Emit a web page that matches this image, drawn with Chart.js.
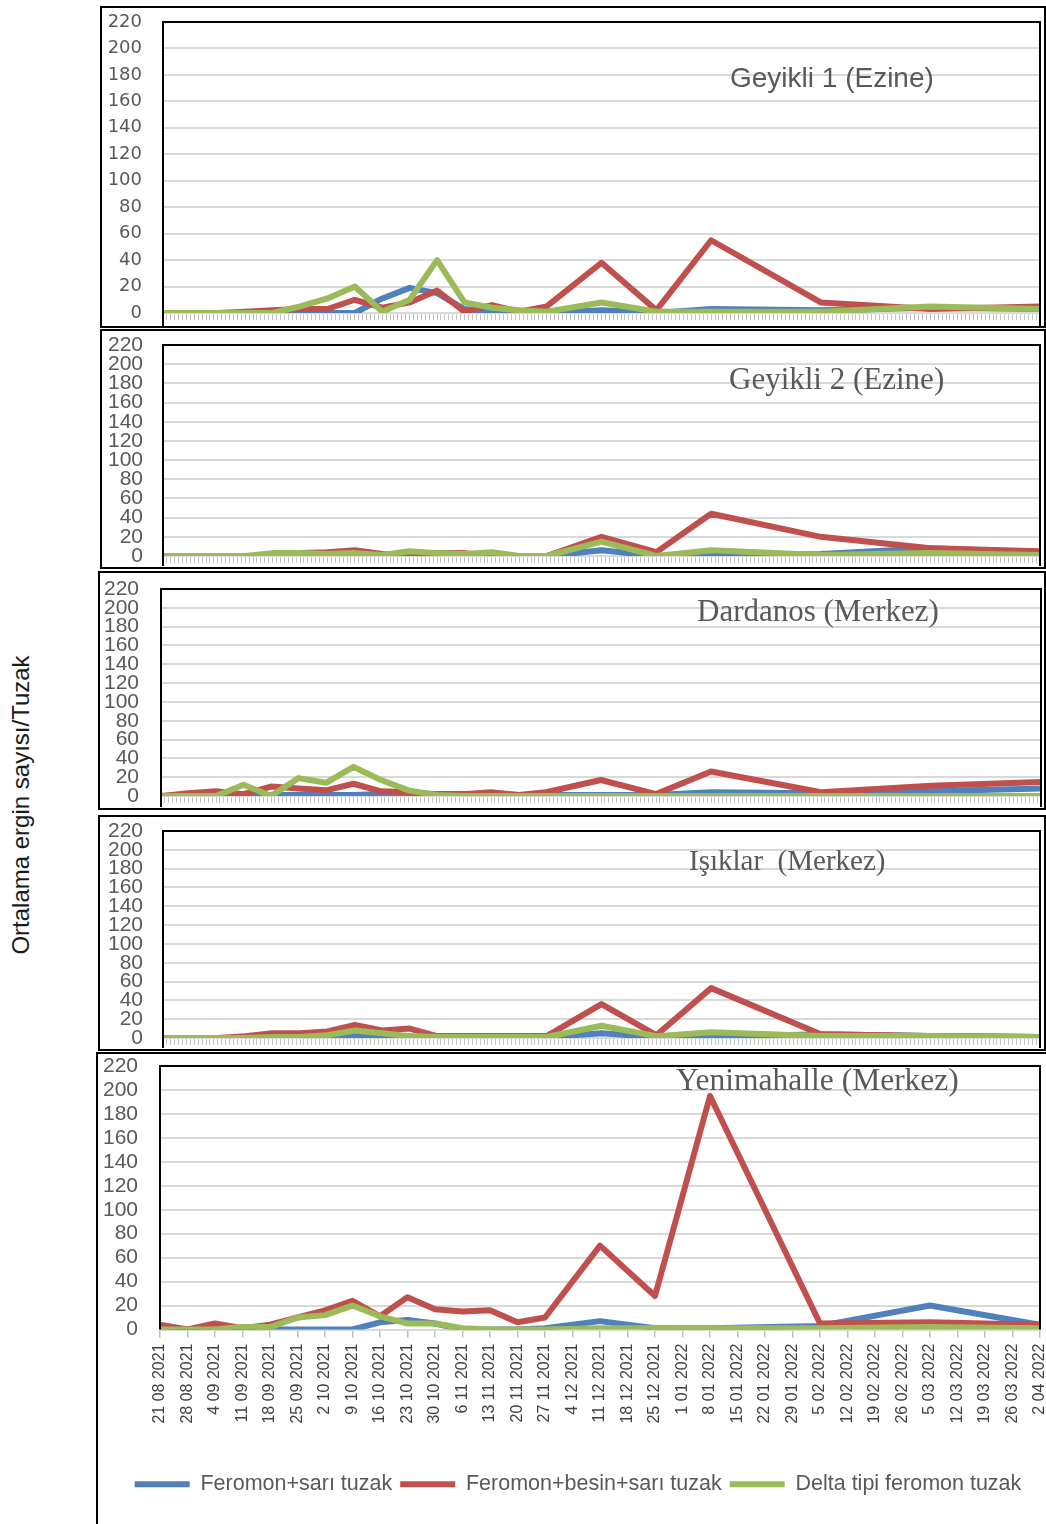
<!DOCTYPE html>
<html><head><meta charset="utf-8">
<script src="https://cdn.jsdelivr.net/npm/chart.js@4.4.1/dist/chart.umd.min.js"></script>
<style>
html,body{margin:0;padding:0;background:#fff;}
body{width:1046px;height:1524px;overflow:hidden;position:relative;}
.frame{position:absolute;border:2px solid #000;box-sizing:border-box;}
canvas{position:absolute;left:0;}
.ttl{position:absolute;color:#595959;white-space:pre;line-height:1;}
#ytitle{position:absolute;left:21px;top:805px;transform:translate(-50%,-50%) rotate(-90deg);white-space:nowrap;font-family:'Liberation Sans',Arial,sans-serif;font-size:24px;color:#1a1a1a;line-height:1;}
</style></head><body>
<div id="ytitle">Ortalama ergin sayısı/Tuzak</div>
<script>
// ---------------- DATA ----------------
const dates = ['21 08 2021','28 08 2021','4 09 2021','11 09 2021','18 09 2021','25 09 2021','2 10 2021','9 10 2021','16 10 2021','23 10 2021','30 10 2021','6 11 2021','13 11 2021','20 11 2021','27 11 2021','4 12 2021','11 12 2021','18 12 2021','25 12 2021','1 01 2022','8 01 2022','15 01 2022','22 01 2022','29 01 2022','5 02 2022','12 02 2022','19 02 2022','26 02 2022','5 03 2022','12 03 2022','19 03 2022','26 03 2022','2 04 2022'];
const seriesNames = ['Feromon+sarı tuzak','Feromon+besin+sarı tuzak','Delta tipi feromon tuzak'];
const panelTitles = ['Geyikli 1 (Ezine)','Geyikli 2 (Ezine)','Dardanos (Merkez)','Işıklar  (Merkez)','Yenimahalle (Merkez)'];
const yMin = 0, yMax = 220, yStep = 20;

const geyikli1Blue  = [0,0,0,0,0,0,0,0,11,19,15,3,1,0,0,null,2,null,0,null,3,null,null,null,2,null,null,null,4,null,null,null,3];
const geyikli1Red   = [0,0,0,1,2,3,3,10,4,8,17,1,6,1,5,null,38,null,2,null,55,null,null,null,8,null,null,null,3,null,null,null,5];
const geyikli1Green = [0,0,0,0,0,5,11,20,1,10,40,8,4,2,1,null,8,null,1,null,1,null,null,null,1,null,null,null,5,null,null,null,3];

const geyikli2Blue  = [0,0,0,0,0,0,0,0,0,0,0,0,0,0,0,null,6,null,0,null,1,null,null,null,2,null,null,null,8,null,null,null,4];
const geyikli2Red   = [0,0,0,0,0,3,4,6,2,0,3,3,0,0,0,null,20,null,4,null,44,null,null,null,20,null,null,null,8,null,null,null,5];
const geyikli2Green = [0,0,0,0,3,3,2,3,1,5,3,2,4,0,0,null,15,null,0,null,6,null,null,null,1,null,null,null,3,null,null,null,1];

const dardanosBlue  = [0,0,0,0,1,1,1,1,2,2,2,2,2,1,1,null,1,null,1,null,4,null,null,null,3,null,null,null,5,null,null,null,8];
const dardanosRed   = [0,3,5,2,10,8,6,13,5,4,2,2,4,1,4,null,17,null,2,null,26,null,null,null,4,null,null,null,11,null,null,null,15];
const dardanosGreen = [0,0,0,12,0,19,14,31,17,6,1,0,0,0,0,null,0,null,0,null,0,null,null,null,0,null,null,null,0,null,null,null,0];

const isiklarBlue   = [0,0,0,0,0,0,1,2,1,0,0,0,0,1,1,null,5,null,1,null,1,null,null,null,4,null,null,null,2,null,null,null,1];
const isiklarRed    = [0,0,0,2,5,5,7,14,8,10,2,2,2,2,2,null,36,null,3,null,53,null,null,null,4,null,null,null,2,null,null,null,1];
const isiklarGreen  = [0,0,0,0,1,1,3,8,5,2,1,1,1,1,1,null,13,null,2,null,6,null,null,null,2,null,null,null,2,null,null,null,1];

const yenimahalleBlue  = [0,0,0,0,0,0,0,0,6,8,5,0,0,0,1,null,7,null,1,null,1,null,null,null,3,null,null,null,20,null,null,null,4];
const yenimahalleRed   = [4,0,5,1,4,10,16,24,11,27,17,15,16,6,10,null,70,null,28,null,195,null,null,null,5,null,null,null,6,null,null,null,4];
const yenimahalleGreen = [0,0,0,2,2,10,12,20,11,5,5,1,0,0,0,null,1,null,1,null,1,null,null,null,1,null,null,null,2,null,null,null,1];

const panelSeries = [
  [geyikli1Blue, geyikli1Red, geyikli1Green],
  [geyikli2Blue, geyikli2Red, geyikli2Green],
  [dardanosBlue, dardanosRed, dardanosGreen],
  [isiklarBlue, isiklarRed, isiklarGreen],
  [yenimahalleBlue, yenimahalleRed, yenimahalleGreen]
];

// ---------------- STYLE / LAYOUT ----------------
const colors = ['#4F81BD','#C0504D','#9BBB59'];
const drawOrder = [2,1,0];
const CW = 1100;
const sansTick = {family:"'Liberation Sans', Arial, sans-serif", size:21, lineHeight:1};
const layouts = [
  {top:8,   plotTop:22,   y0:313,  boxBottom:327,  left:163, right:1040, gap:21, tickFont:{family:"'DejaVu Sans', sans-serif", size:18, lineHeight:1}, frame:{l:100,t:6,w:946,h:322}},
  {top:331, plotTop:345,  y0:556,  boxBottom:566,  left:163, right:1040, gap:20, tickFont:sansTick, frame:{l:100,t:329,w:946,h:240}},
  {top:574, plotTop:589,  y0:796,  boxBottom:807,  left:161, right:1041, gap:22, tickFont:sansTick, frame:{l:98,t:571,w:948,h:239}},
  {top:818, plotTop:831,  y0:1038, boxBottom:1048, left:163, right:1040, gap:20, tickFont:sansTick, frame:{l:98,t:815,w:948,h:236}},
  {top:1054,plotTop:1066, y0:1327, boxBottom:1327, left:160, right:1040, gap:22, tickFont:sansTick, frame:{l:96,t:1052,w:952,h:480}}
];
const titleStyles = [
  {x:730, y:64,  font:"28px 'Liberation Sans', Arial, sans-serif"},
  {x:729, y:363, font:"31px 'Liberation Serif', 'Times New Roman', serif"},
  {x:697, y:595, font:"31px 'Liberation Serif', 'Times New Roman', serif"},
  {x:689, y:846, font:"29px 'Liberation Serif', 'Times New Roman', serif"},
  {x:676, y:1064,font:"31.5px 'Liberation Serif', 'Times New Roman', serif"}
];

function parseDate(s){const [d,m,y]=s.split(' ').map(Number);return Date.UTC(y,m-1,d);}
const t0 = parseDate(dates[0]);
const dayOffsets = dates.map(d => Math.round((parseDate(d)-t0)/86400000));
const lastDay = dayOffsets[dayOffsets.length-1];

const framePlugin = {
  id:'plotFrame',
  afterDatasetsDraw(chart, args, opts){
    const {ctx, chartArea:a} = chart;
    const bottom = a.bottom + (opts.extend||0);
    ctx.save();
    ctx.strokeStyle='#000'; ctx.lineWidth=2;
    ctx.beginPath();
    ctx.moveTo(a.left, bottom); ctx.lineTo(a.left, a.top); ctx.lineTo(a.right, a.top); ctx.lineTo(a.right, bottom);
    ctx.stroke(); ctx.restore();
  }
};

layouts.forEach((L) => {
  const fr = document.createElement('div');
  fr.className='frame';
  Object.assign(fr.style,{left:L.frame.l+'px',top:L.frame.t+'px',width:L.frame.w+'px',height:L.frame.h+'px'});
  document.body.appendChild(fr);
});

layouts.forEach((L, p) => {
  const last = p === layouts.length-1;
  const cv = document.createElement('canvas');
  const H = last ? (1524 - L.top) : (L.y0 - L.top + 20);
  cv.width = CW; cv.height = H;
  cv.style.top = L.top+'px';
  cv.style.width = CW+'px'; cv.style.height = H+'px';
  document.body.appendChild(cv);

  const padLeft = last ? 96 : 0;
  const legendRight = 1060;           // right end of legend band (panel 5)
  const padRight = last ? CW - legendRight : CW - L.right;
  const datasets = panelSeries[p].map((arr, k) => ({
    label: seriesNames[k],
    data: arr.map((v,i) => ({x: dayOffsets[i], y: v})),
    borderColor: colors[k],
    backgroundColor: colors[k],
    borderWidth: 6,
    pointRadius: 0,
    tension: 0,
    spanGaps: true,
    borderJoinStyle: 'round',
    order: drawOrder[k]
  }));

  const xScale = last ? {
    type:'linear', min:0, max:lastDay,
    border:{display:true, color:'#d9d9d9', width:1},
    grid:{drawOnChartArea:false, drawTicks:true, tickLength:8, color:'#bfbfbf', lineWidth:1.5},
    ticks:{stepSize:7, autoSkip:false, maxRotation:90, minRotation:90, padding:6, color:'#404040',
      font:{family:"'Liberation Sans', Arial, sans-serif", size:16},
      callback:(v)=>{const i=dayOffsets.indexOf(v); return i>=0?dates[i]:'';}},
    afterFit:(s)=>{s.height = 136;}
  } : {
    type:'linear', min:0, max:lastDay,
    border:{display:false},
    grid:{drawOnChartArea:false, drawTicks:true, tickLength:7, color:'#c4c4c4', lineWidth:1},
    ticks:{stepSize:1, autoSkip:false, display:false},
    afterFit:(s)=>{s.height = 12;}
  };

  const scales = {
    x:xScale,
    y:{min:yMin, max:yMax,
      border:{display:false},
      grid:{color:'#d9d9d9', lineWidth:2, drawTicks:true, tickLength:L.gap, tickColor:'rgba(0,0,0,0)'},
      ticks:{stepSize:yStep, autoSkip:false, color:'#595959', padding:0, font:L.tickFont},
      afterFit:(s)=>{s.width = L.left - padLeft;}}
  };
  if (last) {
    scales.yPad = {type:'linear', position:'right', display:true, min:yMin, max:yMax,
      grid:{display:false, drawTicks:false}, border:{display:false}, ticks:{display:false},
      afterFit:(s)=>{s.width = legendRight - L.right;}};
  }

  new Chart(cv, {
    type:'line',
    data:{datasets},
    options:{
      responsive:false, animation:false, devicePixelRatio:1,
      layout:{padding:{left:padLeft, right:padRight, top:L.plotTop-L.top, bottom: last ? 19 : 8}},
      scales,
      plugins:{
        tooltip:{enabled:false},
        plotFrame:{extend: L.boxBottom - L.y0},
        legend: last ? {display:true, position:'bottom', align:'center',
          labels:{usePointStyle:true, pointStyle:'line', pointStyleWidth:55, boxHeight:5, color:'#595959', padding:8,
            font:{family:"'Liberation Sans', Arial, sans-serif", size:21.5},
            sort:(a,b)=>a.datasetIndex-b.datasetIndex}} : {display:false}
      }
    },
    plugins:[framePlugin]
  });

  const t = document.createElement('div');
  t.className='ttl';
  t.textContent = panelTitles[p];
  Object.assign(t.style,{left:titleStyles[p].x+'px', top:titleStyles[p].y+'px', font:titleStyles[p].font, lineHeight:'1'});
  document.body.appendChild(t);
});
</script>
</body></html>
